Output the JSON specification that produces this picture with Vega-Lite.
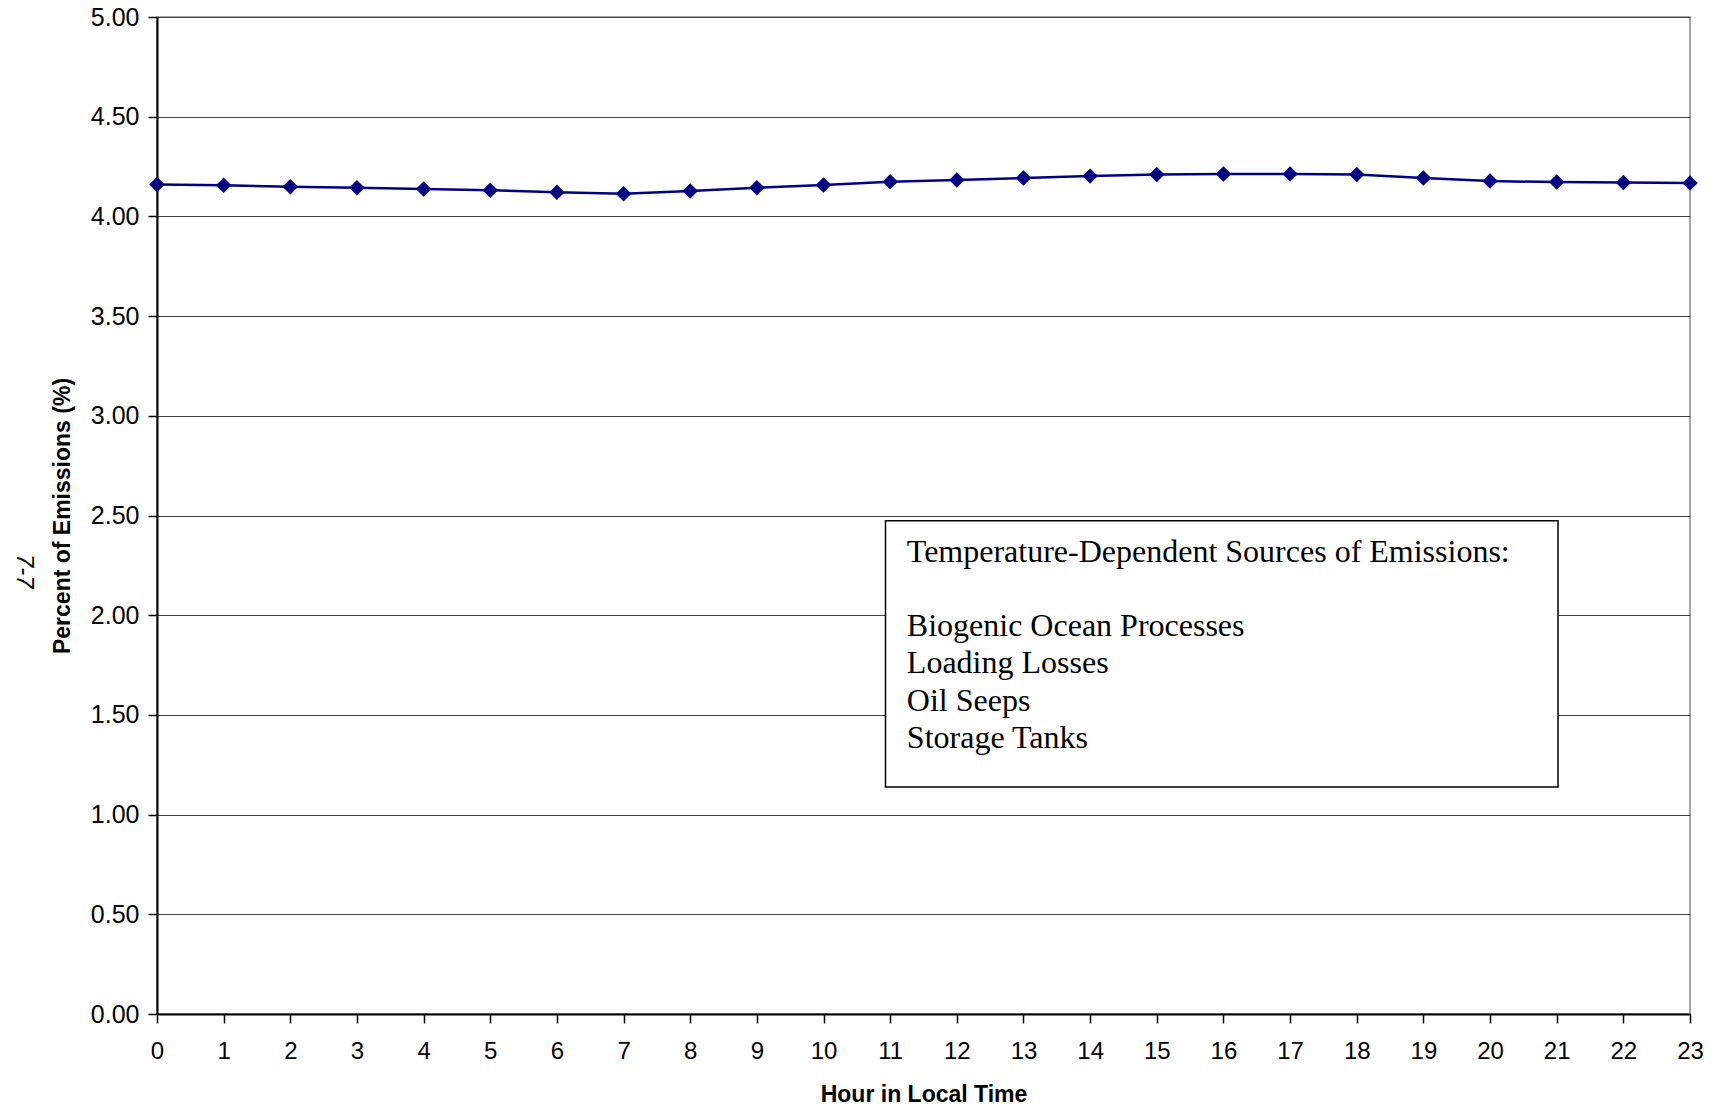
{
  "$schema": "https://vega.github.io/schema/vega-lite/v6.json",
  "width": 1533,
  "height": 997,
  "autosize": {"type": "none"},
  "padding": {"left": 157, "top": 17, "right": 27, "bottom": 96},
  "background": "white",
  "config": {
    "view": {"stroke": "#888888", "strokeWidth": 1.5},
    "font": "Liberation Sans"
  },
  "layer": [
    {
      "data": {
        "values": [
          {"hour": 0, "pct": 4.160}, {"hour": 1, "pct": 4.156}, {"hour": 2, "pct": 4.149},
          {"hour": 3, "pct": 4.144}, {"hour": 4, "pct": 4.137}, {"hour": 5, "pct": 4.131},
          {"hour": 6, "pct": 4.121}, {"hour": 7, "pct": 4.113}, {"hour": 8, "pct": 4.127},
          {"hour": 9, "pct": 4.144}, {"hour": 10, "pct": 4.158}, {"hour": 11, "pct": 4.174},
          {"hour": 12, "pct": 4.182}, {"hour": 13, "pct": 4.192}, {"hour": 14, "pct": 4.202},
          {"hour": 15, "pct": 4.210}, {"hour": 16, "pct": 4.213}, {"hour": 17, "pct": 4.213},
          {"hour": 18, "pct": 4.210}, {"hour": 19, "pct": 4.192}, {"hour": 20, "pct": 4.177},
          {"hour": 21, "pct": 4.172}, {"hour": 22, "pct": 4.170}, {"hour": 23, "pct": 4.167}
        ]
      },
      "mark": {"type": "line", "color": "#000080", "strokeWidth": 2.5, "point": {"shape": "diamond", "filled": true, "color": "#000080", "size": 240}},
      "encoding": {
        "x": {
          "field": "hour", "type": "quantitative",
          "scale": {"domain": [0, 23], "nice": false, "zero": false},
          "axis": {
            "values": [0,1,2,3,4,5,6,7,8,9,10,11,12,13,14,15,16,17,18,19,20,21,22,23],
            "format": "d",
            "title": "Hour in Local Time",
            "titleFontSize": 23, "titleFontWeight": "bold", "titleColor": "#000000", "titlePadding": 20,
            "labelFontSize": 24, "labelColor": "#000000", "labelPadding": 16, "labelFlush": false,
            "tickSize": 9, "tickColor": "#000000", "tickWidth": 1.5,
            "domainColor": "#000000", "domainWidth": 2,
            "grid": false
          }
        },
        "y": {
          "field": "pct", "type": "quantitative",
          "scale": {"domain": [0, 5], "nice": false},
          "axis": {
            "values": [0, 0.5, 1, 1.5, 2, 2.5, 3, 3.5, 4, 4.5, 5],
            "format": ".2f",
            "title": "Percent of Emissions (%)",
            "titleFontSize": 23, "titleFontWeight": "bold", "titleColor": "#000000", "titlePadding": 16,
            "labelFontSize": 25, "labelColor": "#000000", "labelPadding": 9,
            "tickSize": 9, "tickColor": "#000000", "tickWidth": 1.5,
            "domainColor": "#000000", "domainWidth": 2,
            "grid": true, "gridColor": "#444444", "gridWidth": 1.2
          }
        }
      }
    },
    {
      "data": {"values": [{"x1": 10.93, "x2": 21.02, "y1": 2.474, "y2": 1.139}]},
      "mark": {"type": "rect", "fill": "white", "stroke": "#000000", "strokeWidth": 1.5},
      "encoding": {
        "x": {"field": "x1", "type": "quantitative"},
        "x2": {"field": "x2"},
        "y": {"field": "y1", "type": "quantitative"},
        "y2": {"field": "y2"}
      }
    },
    {
      "data": {
        "values": [
          {"label": "Temperature-Dependent Sources of Emissions:", "tx": 11.25, "ty": 2.318},
          {"label": "Biogenic Ocean Processes", "tx": 11.25, "ty": 1.947},
          {"label": "Loading Losses", "tx": 11.25, "ty": 1.761},
          {"label": "Oil Seeps", "tx": 11.25, "ty": 1.571},
          {"label": "Storage Tanks", "tx": 11.25, "ty": 1.385}
        ]
      },
      "mark": {"type": "text", "font": "Liberation Serif", "fontSize": 32, "align": "left", "baseline": "middle", "color": "#000000"},
      "encoding": {
        "x": {"field": "tx", "type": "quantitative"},
        "y": {"field": "ty", "type": "quantitative"},
        "text": {"field": "label"}
      }
    },
    {
      "data": {"values": [{"label": "7-7", "tx": -2.0, "ty": 2.22}]},
      "mark": {"type": "text", "font": "Liberation Sans", "fontSize": 24, "fontStyle": "italic", "angle": 90, "align": "center", "baseline": "middle", "color": "#000000"},
      "encoding": {
        "x": {"field": "tx", "type": "quantitative"},
        "y": {"field": "ty", "type": "quantitative"},
        "text": {"field": "label"}
      }
    }
  ]
}
